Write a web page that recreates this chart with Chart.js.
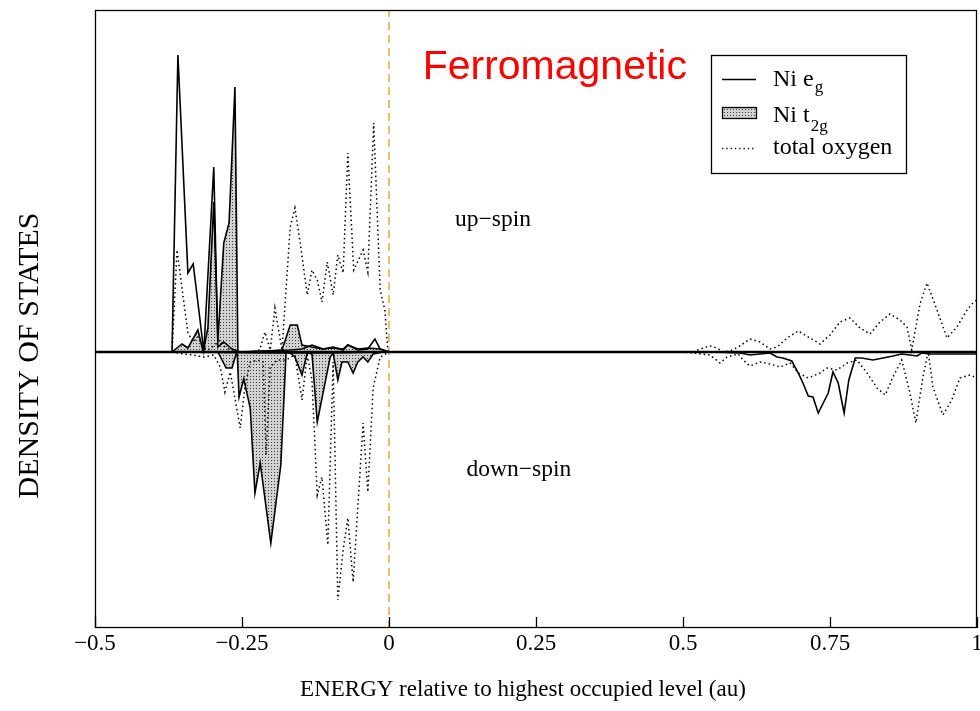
<!DOCTYPE html>
<html>
<head>
<meta charset="utf-8">
<title>Ni DOS – Ferromagnetic</title>
<script src="https://cdn.jsdelivr.net/npm/chart.js@4/dist/chart.umd.min.js"></script>
<style>
  html, body { margin: 0; padding: 0; background: #fff; }
  #wrap { width: 980px; height: 711px; }
</style>
</head>
<body>
<div id="wrap"><canvas id="dos" width="980" height="711"></canvas></div>
<script>
// ---- Energy axis (au, relative to highest occupied level) ----
const xTickValues = [-0.5, -0.25, 0, 0.25, 0.5, 0.75, 1];
const xTickLabels = ['\u22120.5', '\u22120.25', '0', '0.25', '0.5', '0.75', '1'];
const yRange = [-2.76, 3.42];
const xTitle = 'ENERGY relative to highest occupied level (au)';
const yTitle = 'DENSITY OF STATES';

// ---- Ni e_g, up-spin ----
const egUpE   = [-0.369, -0.359, -0.342, -0.333, -0.323, -0.315, -0.298, -0.291, -0.281, -0.267,
                 -0.253, -0.220, -0.168, -0.148, -0.131, -0.112, -0.095, -0.078, -0.070, -0.053,
                 -0.036, -0.024, -0.015, 0.0, 1.0];
const egUpDos = [0, 2.97, 0.79, 0.88, 0.40, 0.0, 1.85, 0.05, 0.10, 0.03,
                 0.0, 0.01, 0.02, 0.03, 0.07, 0.03, 0.05, 0.02, 0.07, 0.02,
                 0.03, 0.13, 0.03, 0, 0];

// ---- Ni e_g, down-spin ----
const egDownE   = [-0.369, -0.20, -0.10, 0.0, 0.55, 0.597, 0.614, 0.631, 0.648, 0.660,
                   0.670, 0.685, 0.696, 0.704, 0.713, 0.721, 0.730, 0.747, 0.755, 0.764,
                   0.774, 0.782, 0.793, 0.804, 0.823, 0.840, 0.857, 0.872, 0.886, 0.898,
                   0.906, 0.920, 1.0];
const egDownDos = [0, -0.01, -0.01, 0, 0, -0.01, -0.03, -0.02, -0.01, -0.05,
                   -0.06, -0.09, -0.21, -0.31, -0.44, -0.45, -0.61, -0.41, -0.20, -0.31,
                   -0.61, -0.28, -0.06, -0.06, -0.08, -0.06, -0.04, -0.02, -0.03, -0.04,
                   -0.01, -0.02, -0.02];

// ---- Ni t_2g, up-spin ----
const t2gUpE   = [-0.369, -0.352, -0.342, -0.325, -0.316, -0.308, -0.298, -0.291, -0.281, -0.272,
                  -0.262, -0.257, -0.236, -0.200, -0.182, -0.168, -0.156, -0.148, -0.131, -0.114,
                  -0.095, -0.078, -0.070, -0.053, -0.036, -0.015, 0.0];
const t2gUpDos = [0, 0.08, 0.04, 0.22, 0.0, 0.24, 1.5, 0.12, 1.09, 1.29,
                  2.65, 0.0, 0.0, 0.01, 0.02, 0.27, 0.27, 0.07, 0.05, 0.03,
                  0.04, 0.03, 0.07, 0.03, 0.04, 0.03, 0];

// ---- Ni t_2g, down-spin ----
const t2gDownE   = [-0.291, -0.284, -0.277, -0.267, -0.260, -0.258, -0.255, -0.247, -0.236, -0.228,
                    -0.219, -0.201, -0.184, -0.175, -0.168, -0.160, -0.148, -0.139, -0.131, -0.122,
                    -0.100, -0.095, -0.087, -0.080, -0.070, -0.061, -0.053, -0.044, -0.036, -0.027,
                    -0.010, 0.0];
const t2gDownDos = [0, -0.08, -0.16, -0.16, -0.02, -0.02, -0.45, -0.27, -0.56, -1.41,
                    -1.11, -1.91, -1.13, 0, -0.01, -0.05, -0.23, -0.01, -0.02, -0.70,
                    -0.05, -0.01, -0.28, -0.10, -0.10, -0.21, -0.10, -0.05, -0.10, -0.02,
                    0, 0];

// ---- total oxygen, up-spin (valence, then conduction) ----
const oxUpValE   = [-0.369, -0.3605, -0.342, -0.333, -0.325, -0.316, -0.308, -0.298, -0.287, -0.279,
                    -0.264, -0.236, -0.220, -0.211, -0.202, -0.194, -0.182, -0.168, -0.160, -0.151,
                    -0.139, -0.131, -0.122, -0.114, -0.105, -0.095, -0.087, -0.078, -0.070, -0.060,
                    -0.044, -0.036, -0.026, -0.015, -0.007, -0.002, 0.0];
const oxUpValDos = [0, 1.02, 0.19, 0.10, 0.15, 0.05, 0.02, 0.06, 0.12, 0.05,
                    0.0, 0.0, 0.02, 0.20, 0.02, 0.44, 0.02, 1.25, 1.44, 1.09,
                    0.57, 0.82, 0.72, 0.50, 0.90, 0.57, 0.97, 0.79, 1.99, 0.82,
                    1.02, 0.80, 2.29, 0.62, 0.42, 0.02, 0];
const oxUpCondE   = [0.50, 0.517, 0.529, 0.546, 0.558, 0.568, 0.580, 0.594, 0.614, 0.631,
                     0.648, 0.660, 0.677, 0.696, 0.716, 0.733, 0.750, 0.767, 0.784, 0.801,
                     0.818, 0.835, 0.852, 0.869, 0.881, 0.889, 0.903, 0.915, 0.932, 0.949,
                     0.966, 0.983, 0.993, 1.0];
const oxUpCondDos = [0, 0.0, 0.03, 0.06, 0.04, 0.0, 0.01, 0.05, 0.13, 0.10,
                     0.03, 0.05, 0.14, 0.21, 0.14, 0.08, 0.17, 0.30, 0.34, 0.24,
                     0.18, 0.30, 0.38, 0.32, 0.25, 0.02, 0.48, 0.69, 0.42, 0.14,
                     0.25, 0.42, 0.49, 0.52];

// ---- total oxygen, down-spin (valence, then conduction) ----
const oxDownValE   = [-0.369, -0.350, -0.333, -0.316, -0.298, -0.287, -0.279, -0.270, -0.253, -0.245,
                      -0.236, -0.223, -0.214, -0.209, -0.202, -0.190, -0.175, -0.160, -0.148, -0.139,
                      -0.131, -0.122, -0.114, -0.104, -0.095, -0.087, -0.078, -0.070, -0.061, -0.044,
                      -0.036, -0.027, -0.015, 0.0];
const oxDownValDos = [0, -0.02, -0.03, -0.05, -0.03, -0.15, -0.40, -0.20, -0.76, -0.35,
                      -0.10, -0.08, -0.10, -1.03, -0.15, -0.08, -0.08, -0.03, -0.48, -0.03,
                      -0.28, -1.43, -1.25, -1.93, -0.10, -2.48, -1.98, -1.66, -2.30, -0.71,
                      -1.40, -0.36, -0.05, 0];
const oxDownCondE   = [0.50, 0.517, 0.546, 0.563, 0.575, 0.594, 0.602, 0.614, 0.631, 0.648,
                       0.665, 0.682, 0.696, 0.713, 0.733, 0.745, 0.762, 0.779, 0.796, 0.813,
                       0.830, 0.844, 0.857, 0.872, 0.886, 0.896, 0.908, 0.917, 0.925, 0.942,
                       0.957, 0.971, 0.988, 1.0];
const oxDownCondDos = [0, -0.01, -0.03, -0.11, -0.05, -0.02, -0.08, -0.14, -0.10, -0.12,
                       -0.15, -0.11, -0.21, -0.26, -0.21, -0.16, -0.18, -0.11, -0.08, -0.21,
                       -0.36, -0.43, -0.25, -0.08, -0.41, -0.71, -0.25, 0.0, -0.35, -0.63,
                       -0.48, -0.26, -0.23, -0.26];

// ---- annotations (placed in data coordinates) ----
const titleText = 'Ferromagnetic';
const titleAt = { x: 0.282, y: 2.84 };
const upLabel = 'up\u2212spin';
const upAt = { x: 0.177, y: 1.32 };
const downLabel = 'down\u2212spin';
const downAt = { x: 0.221, y: -1.18 };

const SERIF = '"Liberation Serif", "DejaVu Serif", serif';
const SANS = '"Liberation Sans", Arial, sans-serif';

function pts(xs, ys) { return xs.map((x, i) => ({ x, y: ys[i] })); }

const canvas = document.getElementById('dos');
const ctx0 = canvas.getContext('2d');

// stippled grey fill used for the t2g areas
function makeStipple() {
  const c = document.createElement('canvas');
  c.width = 3; c.height = 3;
  const g = c.getContext('2d');
  g.fillStyle = '#d2d2d2'; g.fillRect(0, 0, 3, 3);
  g.fillStyle = '#3c3c3c'; g.fillRect(1, 1, 1, 1);
  return ctx0.createPattern(c, 'repeat');
}
const stipple = makeStipple();

const solid = { borderColor: '#000', borderWidth: 1.6, pointRadius: 0, tension: 0, fill: false };
const dotted = { borderColor: '#000', borderWidth: 1.5, borderDash: [1.5, 3], pointRadius: 0, tension: 0, fill: false };

// frame box, inward-pointing ticks and the two axis titles
const frameTicks = {
  id: 'frameTicks',
  afterDatasetsDraw(chart) {
    const { ctx, chartArea: a, scales: { x } } = chart;
    ctx.save();
    ctx.strokeStyle = '#000';
    ctx.lineWidth = 1.3;
    ctx.strokeRect(a.left + 0.5, a.top + 0.5, a.right - a.left - 1, a.bottom - a.top - 1);
    ctx.beginPath();
    xTickValues.forEach(v => {
      const px = Math.round(x.getPixelForValue(v)) + 0.5;
      ctx.moveTo(px, a.bottom);
      ctx.lineTo(px, a.bottom - 11);
    });
    ctx.stroke();

    ctx.fillStyle = '#000';
    ctx.textAlign = 'center';
    ctx.textBaseline = 'middle';
    ctx.font = '23px ' + SERIF;
    ctx.fillText(xTitle, a.left + 428, chart.height - 21);
    ctx.translate(30, chart.height / 2);
    ctx.rotate(-Math.PI / 2);
    ctx.font = '30px ' + SERIF;
    ctx.fillText(yTitle, 0, 0);
    ctx.restore();
  }
};

// text labels and the legend box
const labelsLegend = {
  id: 'labelsLegend',
  afterDatasetsDraw(chart) {
    const { ctx, chartArea: a, scales: { x, y } } = chart;
    ctx.save();
    ctx.textAlign = 'center';
    ctx.textBaseline = 'middle';
    ctx.fillStyle = '#ff0000';
    ctx.font = '41px ' + SANS;
    ctx.fillText(titleText, x.getPixelForValue(titleAt.x), y.getPixelForValue(titleAt.y));
    ctx.fillStyle = '#000';
    ctx.font = '23.5px ' + SERIF;
    ctx.fillText(upLabel, x.getPixelForValue(upAt.x), y.getPixelForValue(upAt.y));
    ctx.fillText(downLabel, x.getPixelForValue(downAt.x), y.getPixelForValue(downAt.y));

    // legend
    const lx = a.right - 266, ly = a.top + 45, lw = 195, lh = 118;
    ctx.fillStyle = '#fff';
    ctx.fillRect(lx, ly, lw, lh);
    ctx.strokeStyle = '#000';
    ctx.lineWidth = 1.3;
    ctx.strokeRect(lx + 0.5, ly + 0.5, lw, lh);

    const sx0 = lx + 11, sx1 = lx + 45, tx = lx + 62;
    ctx.lineWidth = 1.3;
    ctx.beginPath(); ctx.moveTo(sx0, ly + 24.5); ctx.lineTo(sx1, ly + 24.5); ctx.stroke();

    ctx.fillStyle = stipple;
    ctx.fillRect(sx0, ly + 52, sx1 - sx0, 11);
    ctx.strokeRect(sx0 + 0.5, ly + 52.5, sx1 - sx0, 11);

    ctx.setLineDash([1.3, 3]);
    ctx.beginPath(); ctx.moveTo(sx0, ly + 93.5); ctx.lineTo(sx1, ly + 93.5); ctx.stroke();
    ctx.setLineDash([]);

    ctx.fillStyle = '#000';
    ctx.textAlign = 'left';
    ctx.textBaseline = 'alphabetic';
    ctx.font = '24px ' + SERIF;
    ctx.fillText('Ni e', tx, ly + 31);
    let w = ctx.measureText('Ni e').width;
    ctx.font = '17px ' + SERIF;
    ctx.fillText('g', tx + w + 1, ly + 37);
    ctx.font = '24px ' + SERIF;
    ctx.fillText('Ni t', tx, ly + 67);
    w = ctx.measureText('Ni t').width;
    ctx.font = '17px ' + SERIF;
    ctx.fillText('2g', tx + w + 1, ly + 76);
    ctx.font = '24px ' + SERIF;
    ctx.fillText('total oxygen', tx, ly + 99);
    ctx.restore();
  }
};

new Chart(canvas, {
  type: 'line',
  data: {
    datasets: [
      { label: 'zero', data: pts([xTickValues[0], xTickValues[xTickValues.length - 1]], [0, 0]),
        borderColor: '#000', borderWidth: 2.6, pointRadius: 0, order: 0 },
      { label: 'Ni eg up', data: pts(egUpE, egUpDos), ...solid, order: 1 },
      { label: 'Ni eg down', data: pts(egDownE, egDownDos), ...solid, order: 1 },
      { label: 'occupied level', data: pts([0, 0], yRange),
        borderColor: '#e8a030', borderWidth: 1.4, borderDash: [8, 5], pointRadius: 0, order: 2 },
      { label: 'total oxygen up', data: pts(oxUpValE.concat(oxUpCondE), oxUpValDos.concat(oxUpCondDos)), ...dotted, order: 3 },
      { label: 'total oxygen down', data: pts(oxDownValE.concat(oxDownCondE), oxDownValDos.concat(oxDownCondDos)), ...dotted, order: 3 },
      { label: 'Ni t2g up', data: pts(t2gUpE, t2gUpDos), borderColor: '#000', borderWidth: 1.6,
        pointRadius: 0, tension: 0, fill: 'origin', backgroundColor: stipple, order: 10 },
      { label: 'Ni t2g down', data: pts(t2gDownE, t2gDownDos), borderColor: '#000', borderWidth: 1.6,
        pointRadius: 0, tension: 0, fill: 'origin', backgroundColor: stipple, order: 10 }
    ]
  },
  options: {
    responsive: false,
    animation: false,
    devicePixelRatio: 1,
    events: [],
    layout: { padding: { left: 12, right: 3, top: 10, bottom: 0 } },
    plugins: { legend: { display: false }, tooltip: { enabled: false } },
    scales: {
      x: {
        type: 'linear',
        min: xTickValues[0],
        max: xTickValues[xTickValues.length - 1],
        afterBuildTicks(scale) { scale.ticks = xTickValues.map(v => ({ value: v })); },
        afterFit(scale) { scale.height = 83; scale.paddingLeft = 0; scale.paddingRight = 0; },
        grid: { display: false, drawTicks: false },
        border: { display: false },
        ticks: {
          autoSkip: false, maxRotation: 0, padding: 2, color: '#000',
          font: { family: SERIF, size: 23 },
          callback(v) { const i = xTickValues.indexOf(v); return i >= 0 ? xTickLabels[i] : ''; }
        },
        title: { display: false }
      },
      y: {
        type: 'linear',
        min: yRange[0],
        max: yRange[1],
        afterFit(scale) { scale.width = 83; },
        grid: { display: false, drawTicks: false },
        border: { display: false },
        ticks: { display: false },
        title: { display: false }
      }
    }
  },
  plugins: [frameTicks, labelsLegend]
});
</script>
</body>
</html>
